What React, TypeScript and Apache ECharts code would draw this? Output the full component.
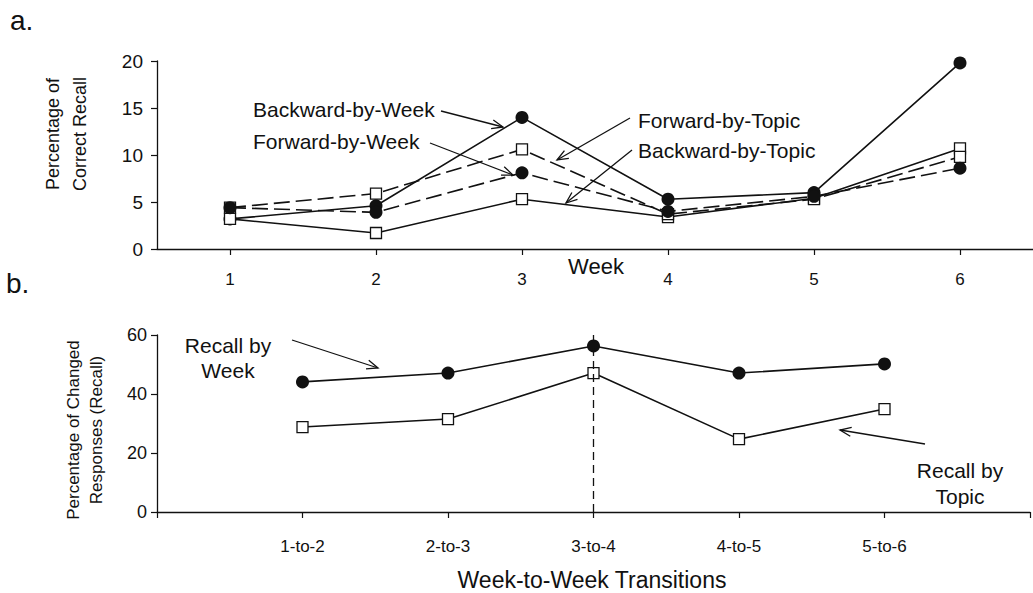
import React, { useEffect, useRef } from "react";
import * as echarts from "echarts";

// ---- data ----
const weeks = ["1", "2", "3", "4", "5", "6"];
const backwardByWeek = [3.2, 4.6, 14.0, 5.3, 6.0, 19.8];
const forwardByWeek = [4.4, 3.9, 8.1, 4.0, 5.6, 8.6];
const forwardByTopic = [4.4, 5.9, 10.6, 3.7, 5.3, 9.8];
const backwardByTopic = [3.2, 1.7, 5.3, 3.4, 5.4, 10.7];

const transitions = ["1-to-2", "2-to-3", "3-to-4", "4-to-5", "5-to-6"];
const recallByWeek = [44.1, 47.1, 56.3, 47.1, 50.2];
const recallByTopic = [28.8, 31.5, 47.1, 24.7, 34.9];
const highlightTransition = "3-to-4";

const FONT = "'Liberation Sans', Arial, Helvetica, sans-serif";
const INK = "#111";

function arrow(x1: number, y1: number, x2: number, y2: number) {
  const a = Math.atan2(y2 - y1, x2 - x1);
  const L = 12;
  const s = 0.38;
  const p1 = [x2 - L * Math.cos(a - s), y2 - L * Math.sin(a - s)];
  const p2 = [x2 - L * Math.cos(a + s), y2 - L * Math.sin(a + s)];
  return [
    { type: "line", shape: { x1, y1, x2, y2 }, style: { stroke: INK, lineWidth: 1.3 }, silent: true },
    { type: "polyline", shape: { points: [p1, [x2, y2], p2] }, style: { stroke: INK, lineWidth: 1.3, fill: null }, silent: true },
  ];
}

function txt(text: string, x: number, y: number, size: number, align = "left", rotation = 0) {
  return {
    type: "text",
    x,
    y,
    rotation,
    silent: true,
    style: { text, fontSize: size, fontFamily: FONT, fill: INK, align, verticalAlign: "middle" },
  };
}

export default function App() {
  const ref = useRef<HTMLDivElement>(null);
  useEffect(() => {
    if (!ref.current) return;
    const chart = echarts.init(ref.current, null, { renderer: "svg" });
    const pad = (arr: number[]) => [null, ...arr, null];
    const axisCommon = {
      axisLine: { show: true, lineStyle: { color: INK, width: 1.3 } },
      axisTick: { show: true, length: 6, lineStyle: { color: INK, width: 1.2 } },
      splitLine: { show: false },
    };
    const lineSeries = (name: string, data: any[], dashed: boolean, square: boolean, z: number, xi = 0) => ({
      type: "line",
      name,
      data,
      xAxisIndex: xi,
      yAxisIndex: xi,
      z,
      symbol: square ? "rect" : "circle",
      symbolSize: square ? 11 : 13,
      showSymbol: true,
      lineStyle: { color: INK, width: 1.6, type: dashed ? [16, 6] : "solid" },
      itemStyle: square
        ? { color: "#fff", borderColor: INK, borderWidth: 1.3 }
        : { color: INK, borderColor: INK, borderWidth: 0 },
      emphasis: { disabled: true },
    });

    chart.setOption({
      animation: false,
      backgroundColor: "#fff",
      grid: [
        { left: 157, right: 0, top: 61, height: 188 },
        { left: 157, right: 0, top: 335, height: 177 },
      ],
      xAxis: [
        {
          type: "category",
          gridIndex: 0,
          data: weeks,
          boundaryGap: true,
          ...axisCommon,
          axisTick: { ...axisCommon.axisTick, alignWithLabel: true },
          axisLabel: { color: INK, fontSize: 17, fontFamily: FONT, margin: 22 },
        },
        {
          type: "category",
          gridIndex: 1,
          data: ["", ...transitions, ""],
          boundaryGap: false,
          ...axisCommon,
          axisTick: { ...axisCommon.axisTick, interval: 0 },
          axisLabel: { color: INK, fontSize: 17, fontFamily: FONT, margin: 26, interval: 0 },
        },
      ],
      yAxis: [
        {
          type: "value",
          gridIndex: 0,
          min: 0,
          max: 20,
          interval: 5,
          ...axisCommon,
          axisLabel: { color: INK, fontSize: 19, fontFamily: FONT, margin: 14 },
        },
        {
          type: "value",
          gridIndex: 1,
          min: 0,
          max: 60,
          interval: 20,
          ...axisCommon,
          axisLabel: { color: INK, fontSize: 18, fontFamily: FONT, margin: 10 },
        },
      ],
      series: [
        lineSeries("Backward-by-Week", backwardByWeek, false, false, 2),
        lineSeries("Backward-by-Topic", backwardByTopic, false, true, 3),
        lineSeries("Forward-by-Topic", forwardByTopic, true, true, 4),
        lineSeries("Forward-by-Week", forwardByWeek, true, false, 5),
        {
          ...lineSeries("Recall by Week", pad(recallByWeek), false, false, 3, 1),
          markLine: {
            silent: true,
            symbol: "none",
            label: { show: false },
            lineStyle: { color: INK, width: 1.3, type: [8, 5] },
            data: [{ xAxis: highlightTransition }],
          },
        },
        lineSeries("Recall by Topic", pad(recallByTopic), false, true, 4, 1),
      ],
      graphic: [
        txt("a.", 10, 20, 28),
        txt("b.", 6, 283, 28),
        txt("Percentage of", 53, 134, 18, "center", Math.PI / 2),
        txt("Correct Recall", 80, 134, 18, "center", Math.PI / 2),
        txt("Percentage of Changed", 73, 430, 17, "center", Math.PI / 2),
        txt("Responses (Recall)", 96, 430, 17, "center", Math.PI / 2),
        txt("Week", 596, 266, 22, "center"),
        txt("Week-to-Week Transitions", 592, 580, 23, "center"),
        txt("Backward-by-Week", 253, 109, 21),
        txt("Forward-by-Week", 253, 141, 21),
        txt("Forward-by-Topic", 638, 120, 21),
        txt("Backward-by-Topic", 638, 150, 21),
        ...arrow(441, 111, 503, 127),
        ...arrow(430, 143, 513, 175),
        ...arrow(630, 118, 557, 160),
        ...arrow(632, 150, 566, 203),
        txt("Recall by", 228, 345, 21, "center"),
        txt("Week", 228, 370, 21, "center"),
        ...arrow(292, 340, 378, 368),
        txt("Recall by", 960, 470, 21, "center"),
        txt("Topic", 960, 496, 21, "center"),
        ...arrow(925, 444, 840, 430),
      ],
    });
    return () => chart.dispose();
  }, []);
  return (
    <div
      ref={ref}
      style={{ position: "absolute", left: 0, top: 0, width: 1033, height: 593, background: "#fff" }}
    />
  );
}
